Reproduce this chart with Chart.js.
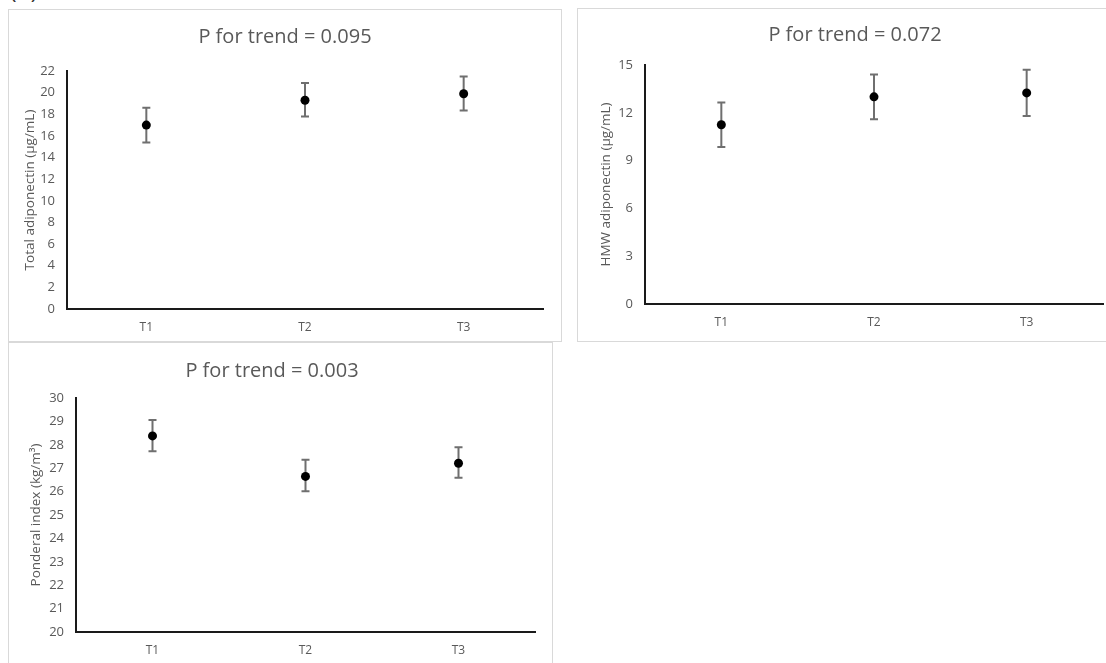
<!DOCTYPE html>
<html>
<head>
<meta charset="utf-8">
<script src="https://cdn.jsdelivr.net/npm/chart.js@4.4.1/dist/chart.umd.min.js"></script>
<style>
  html, body { margin: 0; padding: 0; background: #fff; width: 1106px; height: 663px; overflow: hidden; position: relative; }
  .panel { position: absolute; border: 1px solid #d9d9d9; background: #fff; }
  .panel canvas { display: block; }
  #tag { position: absolute; left: 10px; top: -25px; font: 22px "Open Sans", sans-serif; color: #333; }
</style>
</head>
<body>
<div id="tag">(B)</div>
<div class="panel" style="left:8px; top:9px;"><canvas id="c1" width="552" height="331"></canvas></div>
<div class="panel" style="left:577px; top:8px;"><canvas id="c2" width="554" height="332"></canvas></div>
<div class="panel" style="left:8px; top:342px;"><canvas id="c3" width="543" height="330"></canvas></div>
<script>
// ---- data ----
const categories = ['T1', 'T2', 'T3'];

const titles = ['P for trend = 0.095', 'P for trend = 0.072', 'P for trend = 0.003'];
const yTitles = ['Total adiponectin (\u00b5g/mL)', 'HMW adiponectin (\u00b5g/mL)', 'Ponderal index (kg/m\u00b3)'];

const totalMean = [17.0, 19.3, 19.9];
const totalLow  = [15.4, 17.8, 18.35];
const totalHigh = [18.6, 20.9, 21.5];

const hmwMean = [11.25, 13.0, 13.25];
const hmwLow  = [9.85, 11.6, 11.8];
const hmwHigh = [12.65, 14.4, 14.7];

const piMean = [28.38, 26.65, 27.21];
const piLow  = [27.72, 26.01, 26.59];
const piHigh = [29.06, 27.36, 27.89];

const yTicks1 = [0, 22, 2];
const yTicks2 = [0, 15, 3];
const yTicks3 = [20, 30, 1];

// ---- drawing ----
const FONT = '"Open Sans", "Liberation Sans", sans-serif';
const GRAY = '#595959';

const errorBars = {
  id: 'errorBars',
  beforeDatasetsDraw(chart, args, opts) {
    const { ctx, scales: { x, y } } = chart;
    ctx.save();
    ctx.strokeStyle = opts.color;
    ctx.lineWidth = opts.width;
    opts.low.forEach((l, i) => {
      const px = x.getPixelForValue(i);
      const y1 = y.getPixelForValue(l);
      const y2 = y.getPixelForValue(opts.high[i]);
      ctx.beginPath();
      ctx.moveTo(px, y1); ctx.lineTo(px, y2);
      ctx.moveTo(px - opts.cap, y1); ctx.lineTo(px + opts.cap, y1);
      ctx.moveTo(px - opts.cap, y2); ctx.lineTo(px + opts.cap, y2);
      ctx.stroke();
    });
    ctx.restore();
  }
};

function makeChart(id, spec) {
  const canvas = document.getElementById(id);
  const H = canvas.height, W = canvas.width;
  const titleLH = spec.titleSize * 1.2;
  const axisLH = 13 * 1.2;
  const boxRight = 2 * spec.titleCenter;          // title box spans 0..boxRight
  const padRight = Math.max(W - boxRight, 0);
  const spacer = boxRight - spec.plot.right;      // room right of the plot
  return new Chart(canvas, {
    type: 'line',
    data: {
      labels: categories,
      datasets: [{
        data: spec.mean,
        yAxisID: 'y',
        showLine: false,
        pointRadius: 4.5,
        pointHoverRadius: 4.5,
        pointBackgroundColor: '#000',
        pointBorderColor: '#000',
        pointBorderWidth: 0
      }]
    },
    options: {
      responsive: false,
      devicePixelRatio: 1,
      animation: false,
      events: [],
      layout: { padding: { left: 0, top: 0, bottom: 0, right: padRight } },
      plugins: {
        legend: { display: false },
        tooltip: { enabled: false },
        title: {
          display: true,
          text: spec.title,
          color: GRAY,
          font: { family: FONT, size: spec.titleSize, weight: 'normal' },
          padding: { top: spec.titleY - titleLH / 2, bottom: spec.plot.top - (spec.titleY - titleLH / 2) - titleLH }
        },
        errorBars: { low: spec.low, high: spec.high, color: '#6f6f6f', width: 2, cap: 4 }
      },
      scales: {
        x: {
          type: 'category',
          offset: true,
          grid: { display: false, drawTicks: false },
          border: { display: true, color: '#1a1a1a', width: 2 },
          ticks: { color: GRAY, font: { family: FONT, size: 12 }, padding: 11, maxRotation: 0 },
          afterFit(scale) { scale.height = H - spec.plot.bottom; }
        },
        y: {
          min: spec.ticks[0], max: spec.ticks[1],
          grid: { display: false, drawTicks: false },
          border: { display: true, color: '#1a1a1a', width: 2 },
          ticks: { stepSize: spec.ticks[2], color: GRAY, font: { family: FONT, size: 13 }, padding: 12 },
          title: {
            display: true, text: spec.yTitle, color: GRAY,
            font: { family: FONT, size: 13.5 },
            padding: { top: spec.yTitleX - axisLH / 2, bottom: 0 }
          },
          afterFit(scale) { scale.width = spec.plot.left; }
        },
        yR: {
          position: 'right',
          display: spacer > 0,
          min: spec.ticks[0], max: spec.ticks[1],
          grid: { display: false, drawTicks: false },
          border: { display: false },
          ticks: { display: false },
          afterFit(scale) { scale.width = spacer; }
        }
      }
    },
    plugins: [errorBars]
  });
}

makeChart('c1', {
  title: titles[0], yTitle: yTitles[0], mean: totalMean, low: totalLow, high: totalHigh,
  ticks: yTicks1, titleSize: 20, titleY: 27, titleCenter: 276, yTitleX: 21,
  plot: { left: 58, right: 534, top: 61, bottom: 299 }
});
makeChart('c2', {
  title: titles[1], yTitle: yTitles[1], mean: hmwMean, low: hmwLow, high: hmwHigh,
  ticks: yTicks2, titleSize: 20, titleY: 26, titleCenter: 277, yTitleX: 28,
  plot: { left: 67, right: 525, top: 56, bottom: 295 }
});
makeChart('c3', {
  title: titles[2], yTitle: yTitles[2], mean: piMean, low: piLow, high: piHigh,
  ticks: yTicks3, titleSize: 20, titleY: 28, titleCenter: 263, yTitleX: 27,
  plot: { left: 67, right: 526, top: 55, bottom: 289 }
});
</script>
</body>
</html>
